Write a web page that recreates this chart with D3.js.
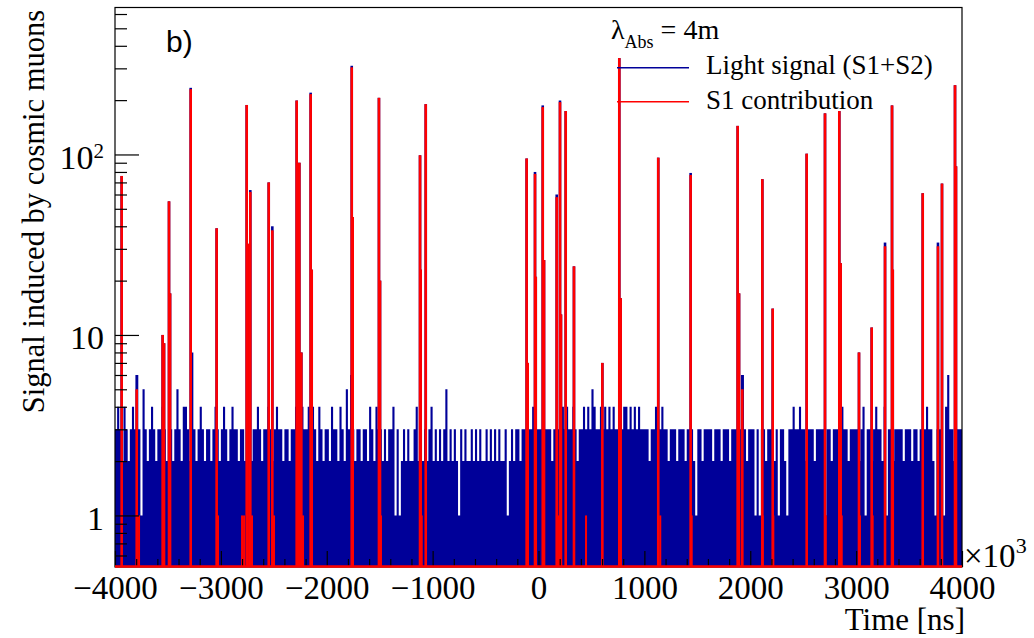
<!DOCTYPE html>
<html>
<head>
<meta charset="utf-8">
<script src="https://cdn.jsdelivr.net/npm/d3@7"></script>
<style>
  body { margin: 0; background: #fff; }
  svg { display: block; }
  text { font-family: "Liberation Serif", "Times New Roman", serif; fill: #000; }
</style>
</head>
<body>
<div id="chart"></div>
<script>
// Canvas
const width = 1034, height = 638;
const frame = {left: 115, right: 962, top: 7.5, bottom: 567};

// Axis ranges (time in units of 10^3 ns)
const xDomain = [-4000, 4000];
const yDomain = [0.518, 652];
const xTicks = [-4000, -3000, -2000, -1000, 0, 1000, 2000, 3000, 4000];
const xTickLabels = ["\u22124000", "\u22123000", "\u22122000", "\u22121000", "0", "1000", "2000", "3000", "4000"];
const yTicks = [1, 10, 100];
const yMinorTicks = [0.6, 0.7, 0.8, 0.9, 2, 3, 4, 5, 6, 7, 8, 9, 20, 30, 40, 50, 60, 70, 80, 90, 200, 300, 400, 500, 600];

// Light signal (S1+S2) background counts, bins of 20 (x10^3 ns), one string per 1000
const binWidth = 20;
const lightNoise = [
    "34324323436315323432334323323532443283234323323432",
    "34323433233233233432334323433233233432433434324323",
    "32433243253632332332432433232334131232322342323234",
    "23232352323213232232323223232323223123233233233433",
    "33233323334434334323343435433434343433234434343433",
    "33233433433233323332333213323333233323332333236323",
    "33131332333231332133433433233323333133233314332333",
    "32341332343324133233332333233233343321333146332333"
];

// Muon peaks: time, S1 contribution, total light signal
const spikeTimes = [-3937, -3795, -3550, -3537, -3490, -3480, -3285, -3040, -2756, -2747,
    -2722, -2548, -2514, -2284, -2269, -2259, -2240, -2152, -2142, -1764,
    -1755, -1507, -1497, -1119, -1113, -1065, -112, -102, -33, -26,
    40, 52, 172, 203, 212, 257, 335, 603, 763, 776,
    1131, 1437, 1881, 1894, 1925, 2114, 2212, 2533, 2706, 2841,
    2854, 3027, 3147, 3273, 3339, 3346, 3629, 3773, 3811, 3934, 3943];
const s1Peak = [76, 5, 10, 9, 55, 17, 230, 39, 188, 32,
    62, 70, 38, 199, 22, 90, 8, 216, 23, 304,
    45, 206, 20, 99, 23, 190, 95, 7, 78, 21,
    183, 26, 58, 195, 13, 174, 24, 7, 342, 16,
    96, 77, 144, 17, 5, 73, 14, 101, 169, 174,
    25, 8, 11, 31, 187, 23, 61, 31, 69, 242, 86];
const lightPeak = [76, 6, 10, 9, 55, 17, 234, 39, 188, 32,
    63.5, 70, 40, 199, 23, 90, 8, 220, 23, 310,
    45, 206, 20, 99, 23, 190, 95, 7, 80, 21,
    187, 26, 60, 199, 13, 174, 24, 7, 342, 16,
    96, 79, 144, 17, 6, 73, 14, 101, 169, 174,
    25, 8, 11, 32.5, 187, 23, 61, 32.5, 69, 242, 86];

// small S1 bins next to the peaks
const s1SmallTimes = [-3773, -3027, -2800, -2781, -2706, -2498, -2224, -1488, -1103, 184,
    449, 1150, 1447, 2118, 2218, 2713, 2864, 3036, 3156];
const s1SmallValues = [1, 1, 1, 1, 1, 1, 1, 1, 1, 1, 1, 1, 1, 1, 1, 1, 1, 1, 1];

const serif = "'Liberation Serif', 'Times New Roman', serif";

const svg = d3.select("#chart").append("svg")
    .attr("width", width)
    .attr("height", height);

const x = d3.scaleLinear().domain(xDomain).range([frame.left, frame.right]);
const y = d3.scaleLog().domain(yDomain).range([frame.bottom, frame.top]);

svg.append("clipPath").attr("id", "clip")
    .append("rect")
    .attr("x", frame.left).attr("y", frame.top)
    .attr("width", frame.right - frame.left)
    .attr("height", frame.bottom - frame.top);

const plot = svg.append("g").attr("clip-path", "url(#clip)");

// blue histogram (background light)
const counts = lightNoise.join("").split("").map(Number);
const bins = counts.map((v, i) => ({t: xDomain[0] + i * binWidth, v: v}));
bins.push({t: xDomain[1], v: counts[counts.length - 1]});

const area = d3.area()
    .curve(d3.curveStepAfter)
    .x(d => x(d.t))
    .y0(frame.bottom)
    .y1(d => y(d.v));

plot.append("path")
    .datum(bins)
    .attr("fill", "#000099")
    .attr("d", area);

const spikeW = 2.6;

// blue peaks (S1+S2)
plot.selectAll(".light-peak")
    .data(spikeTimes)
    .join("rect")
    .attr("class", "light-peak")
    .attr("x", d => x(d) - spikeW / 2)
    .attr("width", spikeW)
    .attr("y", (d, i) => y(lightPeak[i]))
    .attr("height", (d, i) => frame.bottom - y(lightPeak[i]))
    .attr("fill", "#000099");

// red S1 contribution
plot.selectAll(".s1-small")
    .data(s1SmallTimes)
    .join("rect")
    .attr("class", "s1-small")
    .attr("x", d => x(d) - 1)
    .attr("width", 2)
    .attr("y", (d, i) => y(s1SmallValues[i]))
    .attr("height", (d, i) => frame.bottom - y(s1SmallValues[i]))
    .attr("fill", "#ff0000");

plot.selectAll(".s1-peak")
    .data(spikeTimes)
    .join("rect")
    .attr("class", "s1-peak")
    .attr("x", d => x(d) - spikeW / 2)
    .attr("width", spikeW)
    .attr("y", (d, i) => y(s1Peak[i]))
    .attr("height", (d, i) => frame.bottom - y(s1Peak[i]))
    .attr("fill", "#ff0000");

// frame
svg.append("rect")
    .attr("x", frame.left).attr("y", frame.top)
    .attr("width", frame.right - frame.left)
    .attr("height", frame.bottom - frame.top)
    .attr("fill", "none")
    .attr("stroke", "#000")
    .attr("stroke-width", 1.2);

// x axis, ticks pointing inwards
const xAxis = svg.append("g")
    .attr("transform", `translate(0,${frame.bottom})`)
    .call(d3.axisBottom(x).tickValues(xTicks).tickSize(-16).tickPadding(9)
        .tickFormat((d, i) => xTickLabels[i]));
svg.append("g")
    .attr("transform", `translate(0,${frame.bottom})`)
    .call(d3.axisBottom(x).tickValues(d3.range(-4000, 4001, 200).filter(v => v % 1000 !== 0))
        .tickSize(-8).tickFormat(""));

// y axis
const yAxis = svg.append("g")
    .attr("transform", `translate(${frame.left},0)`)
    .call(d3.axisLeft(y).tickValues(yTicks).tickSize(-24).tickPadding(11)
        .tickFormat(d => d === 100 ? "10" : String(d)));
svg.append("g")
    .attr("transform", `translate(${frame.left},0)`)
    .call(d3.axisLeft(y).tickValues(yMinorTicks).tickSize(-12).tickFormat(""));

svg.selectAll(".domain").remove();
svg.selectAll(".tick line").attr("stroke", "#000").attr("stroke-width", 1.2);

xAxis.selectAll("text")
    .style("font-family", serif)
    .style("font-size", "33px")
    .attr("dy", "0.71em");

yAxis.selectAll("text")
    .style("font-family", serif)
    .style("font-size", "34px")
    .attr("dy", "0.4em");
yAxis.selectAll(".tick").filter(d => d === 100).select("text")
    .append("tspan")
    .style("font-size", "21px")
    .attr("dy", -11)
    .text("2");

// red S1 line along zero (below the log range)
svg.append("line")
    .attr("x1", x(xDomain[0])).attr("x2", x(xDomain[1]))
    .attr("y1", frame.bottom - 0.5).attr("y2", frame.bottom - 0.5)
    .attr("stroke", "#ff0000")
    .attr("stroke-width", 2.6);

// x10^3 multiplier
const mult = svg.append("text")
    .attr("x", 964).attr("y", 567)
    .style("font-size", "33px");
mult.append("tspan").text("\u00d710");
mult.append("tspan").style("font-size", "22px").attr("dy", -14).text("3");

// axis titles
svg.append("text")
    .attr("x", 965).attr("y", 630)
    .attr("text-anchor", "end")
    .style("font-size", "31px")
    .text("Time [ns]");

svg.append("text")
    .attr("transform", "translate(43.5,10) rotate(-90)")
    .attr("text-anchor", "end")
    .style("font-size", "30.5px")
    .text("Signal induced by cosmic muons");

// panel label
svg.append("text")
    .attr("x", 166).attr("y", 52)
    .style("font-family", "'Liberation Sans', Arial, sans-serif")
    .style("font-size", "30px")
    .text("b)");

// legend
const lam = svg.append("text").attr("x", 611).attr("y", 39).style("font-size", "28px");
lam.append("tspan").text("\u03bb");
lam.append("tspan").style("font-size", "18px").attr("dy", 9).text("Abs");
lam.append("tspan").attr("dy", -9).text(" = 4m");

const legendItems = ["Light signal (S1+S2)", "S1 contribution"];
const legendColors = ["#000099", "#ff0000"];
const legend = svg.append("g");
legend.selectAll("line")
    .data(legendItems)
    .join("line")
    .attr("x1", 617).attr("x2", 689)
    .attr("y1", (d, i) => 67.7 + i * 34)
    .attr("y2", (d, i) => 67.7 + i * 34)
    .attr("stroke", (d, i) => legendColors[i])
    .attr("stroke-width", 1.6);
legend.selectAll("text")
    .data(legendItems)
    .join("text")
    .attr("x", 706)
    .attr("y", (d, i) => 74 + i * 35)
    .style("font-size", "27px")
    .text(d => d);
</script>
</body>
</html>
